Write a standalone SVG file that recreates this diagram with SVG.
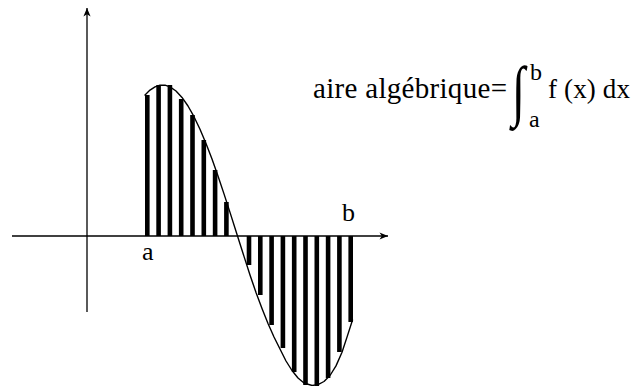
<svg xmlns="http://www.w3.org/2000/svg" width="631" height="386" viewBox="0 0 631 386">
<style>
.ax{stroke:#000;stroke-width:1.3;fill:none}
.cv{stroke:#000;stroke-width:1.4;fill:none;stroke-linejoin:round;stroke-linecap:round}
.bar{fill:#000}
.tx{fill:#000;font-family:"Liberation Serif","Times New Roman",serif}
</style>
<defs>
<marker id="arr" markerUnits="userSpaceOnUse" markerWidth="12" markerHeight="10" viewBox="-10 -5 12 10" refX="0" refY="0" orient="auto">
<path d="M0,0 L-8.5,-3.6 L-6.2,0 L-8.5,3.6 Z" fill="#000"/>
</marker>
</defs>
<rect width="631" height="386" fill="#fff"/>
<g id="axes">
<line class="ax" x1="12" y1="236" x2="388" y2="236" marker-end="url(#arr)"/>
<line class="ax" x1="87" y1="312" x2="87" y2="8" marker-end="url(#arr)"/>
</g>
<g id="bars">
<rect class="bar" x="145" y="95" width="4.6" height="141"/>
<rect class="bar" x="156.3" y="85" width="4.6" height="151"/>
<rect class="bar" x="167.6" y="85" width="4.6" height="151"/>
<rect class="bar" x="178.9" y="99" width="4.6" height="137"/>
<rect class="bar" x="190.2" y="115" width="4.6" height="121"/>
<rect class="bar" x="201.5" y="140" width="4.6" height="96"/>
<rect class="bar" x="212.8" y="170" width="4.6" height="66"/>
<rect class="bar" x="224.1" y="202" width="4.6" height="34"/>
<rect class="bar" x="246.7" y="236" width="4.6" height="29"/>
<rect class="bar" x="258" y="236" width="4.6" height="59"/>
<rect class="bar" x="269.3" y="236" width="4.6" height="89"/>
<rect class="bar" x="280.6" y="236" width="4.6" height="112"/>
<rect class="bar" x="291.9" y="236" width="4.6" height="136"/>
<rect class="bar" x="303.2" y="236" width="4.6" height="149"/>
<rect class="bar" x="314.5" y="236" width="4.6" height="150"/>
<rect class="bar" x="325.8" y="236" width="4.6" height="142"/>
<rect class="bar" x="337.1" y="236" width="4.6" height="116"/>
<rect class="bar" x="348.4" y="236" width="4.6" height="86"/>
</g>
<g id="curve">
<path class="cv" d="M145,95 L150,90.1 L155,86.9 L160,85.2 L165,85.2 L170,86.9 L176,91 L182,97.4 L188,106 L194,116.7 L200,129.2 L206,143.5 L212,159.1 L218,176 L224,193.9 L230,212.4 L237.5,236 L244,256.4 L250,275 L256,292.5 L262,308.5 L268,323.5 L274,337 L280,349 L286,361 L292,370.5 L298,378 L304,383 L312,385.5 L318,384.6 L324,381.5 L330,375.5 L336,365.9 L342,352.2 L347,337.1 L352.5,320"/>
</g>
<g id="labels">
<text class="tx" x="142" y="260" font-size="26">a</text>
<text class="tx" x="342" y="221" font-size="26">b</text>
</g>
<g id="formula">
<text class="tx" x="313" y="98" font-size="29" textLength="194" lengthAdjust="spacing">aire algébrique=</text>
<text class="tx" transform="translate(512,113) scale(0.72,1)" x="0" y="0" font-size="67">∫</text>
<text class="tx" x="530" y="80" font-size="24">b</text>
<text class="tx" x="529" y="127" font-size="24">a</text>
<text class="tx" x="548" y="98" font-size="27" textLength="82" lengthAdjust="spacing">f (x) dx</text>
</g>
</svg>
